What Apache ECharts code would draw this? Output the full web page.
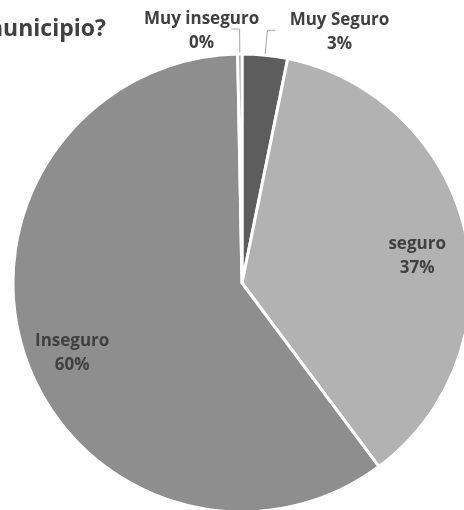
<!DOCTYPE html>
<html>
<head>
<meta charset="utf-8">
<script src="https://cdn.jsdelivr.net/npm/echarts@6/dist/echarts.min.js"></script>
<style>html,body{margin:0;padding:0;background:#fff}#c{width:464px;height:510px}</style>
</head>
<body>
<div id="c"></div>
<script>
// Data (percentages)
const categories = ['Muy Seguro', 'seguro', 'Inseguro', 'Muy inseguro'];
const values = [3.2, 36.6, 59.9, 0.3];
const colors = ['#5d5d5d', '#b2b2b2', '#8e8e8e', '#8e8e8e'];
const titleText = 'municipio?';
const outsideLabelled = ['Muy Seguro', 'Muy inseguro'];

const chart = echarts.init(document.getElementById('c'), null, {renderer: 'canvas'});
const font = '"Open Sans", sans-serif';
const textColor = '#404040';

const baseData = categories.map((c, i) => ({
  name: c, value: values[i], itemStyle: {color: colors[i]}
}));

const outsideData = baseData.map(d => Object.assign({}, d, {
  label: {show: outsideLabelled.includes(d.name)},
  labelLine: {show: outsideLabelled.includes(d.name)}
}));

const insideData = baseData.map(d => ({
  name: d.name, value: d.value,
  label: {show: !outsideLabelled.includes(d.name)}
}));

const rich = {
  t: {fontFamily: font, fontWeight: 'bold', fontSize: 17, color: textColor,
      lineHeight: 24, width: 104, align: 'center'}
};
const labelStyle = {
  formatter: '{t|{b}}\n{t|{d}%}',
  fontFamily: font, fontWeight: 'bold', fontSize: 17, color: textColor,
  lineHeight: 24, rich: rich
};

chart.setOption({
  animation: false,
  title: {
    text: titleText, left: 101, top: 13, textAlign: 'right',
    textStyle: {fontFamily: font, fontWeight: 'bold', fontSize: 23, color: textColor}
  },
  series: [
    {
      type: 'pie', center: [242, 283], radius: [0, 229], startAngle: 90, clockwise: true,
      minAngle: 0, avoidLabelOverlap: false, percentPrecision: 0,
      itemStyle: {borderColor: '#fff', borderWidth: 3},
      label: Object.assign({position: 'outside', distanceToLabelLine: 0}, labelStyle),
      labelLine: {length: 25, length2: 8, lineStyle: {color: '#a6a6a6', width: 1}},
      labelLayout: function (p) {
        return p.dataIndex === 3 ? {dx: 22, dy: 2} : {dx: 12, dy: 2};
      },
      data: outsideData
    },
    {
      type: 'pie', center: [242, 283], radius: [124, 229], startAngle: 90, clockwise: true,
      silent: true, percentPrecision: 0, z: 5,
      itemStyle: {color: 'rgba(0,0,0,0)', borderWidth: 0},
      label: Object.assign({position: 'inside'}, labelStyle),
      labelLine: {show: false},
      labelLayout: {dy: 12},
      emphasis: {disabled: true},
      data: insideData
    }
  ]
});
</script>
</body>
</html>
